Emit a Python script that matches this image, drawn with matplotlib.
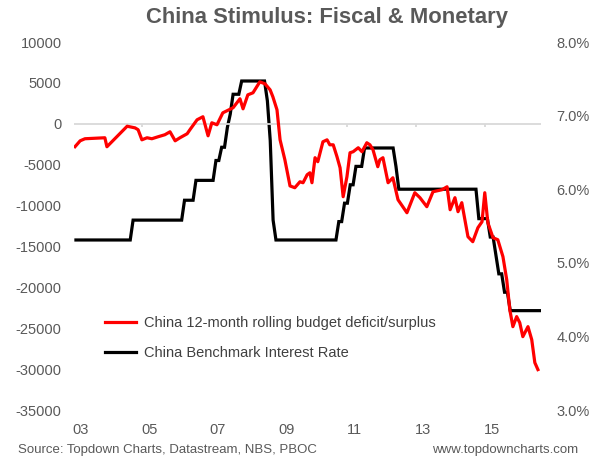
import numpy as np
import pandas as pd
import matplotlib
matplotlib.use("Agg")
import matplotlib.pyplot as plt
from matplotlib.lines import Line2D

plt.rcParams["font.family"] = ["Liberation Sans", "DejaVu Sans"]
plt.rcParams["axes.unicode_minus"] = False

# China 12-month rolling budget balance (fractional year, value)
budget_t = [2003.14, 2003.29, 2003.43, 2004.01, 2004.07, 2004.66, 2004.89, 2004.98,
            2005.09, 2005.24, 2005.38, 2005.56, 2005.76, 2005.91, 2006.06, 2006.20,
            2006.41, 2006.49, 2006.70, 2006.87, 2007.02, 2007.13, 2007.28, 2007.45,
            2007.75, 2007.95, 2008.04, 2008.18, 2008.33, 2008.53, 2008.68, 2008.83,
            2008.91, 2009.03, 2009.12, 2009.26, 2009.41, 2009.55, 2009.70, 2009.79,
            2009.91, 2009.99, 2010.05, 2010.14, 2010.22, 2010.37, 2010.49, 2010.57,
            2010.67, 2010.78, 2010.87, 2010.96, 2011.07, 2011.16, 2011.25, 2011.40,
            2011.51, 2011.65, 2011.74, 2011.83, 2011.97, 2012.03, 2012.12, 2012.27,
            2012.41, 2012.56, 2012.82, 2013.05, 2013.20, 2013.40, 2013.58, 2013.84,
            2013.99, 2014.08, 2014.22, 2014.31, 2014.42, 2014.60, 2014.74, 2014.89,
            2015.01, 2015.09, 2015.18, 2015.33, 2015.47, 2015.62, 2015.73, 2015.82,
            2015.91, 2016.02, 2016.11, 2016.20, 2016.35, 2016.46, 2016.55, 2016.64]
budget_v = [-2800, -2080, -1830, -1710, -2810, -300, -500, -730,
            -1960, -1710, -1830, -1590, -1340, -980, -2080, -1710,
            -1220, -730, 490, 860, -1470, 120, -120, 1340,
            1960, 3060, 1830, 3540, 3790, 5130, 4890, 4150,
            3300, 1710, -1960, -4400, -7600, -7820, -7090, -7210,
            -6230, -5990, -7210, -4150, -4640, -2200, -1960, -2570,
            -2570, -4030, -5380, -8920, -6480, -3540, -3420, -2930,
            -3420, -2320, -2570, -3180, -5250, -4400, -4150, -7210,
            -6600, -9290, -10880, -8430, -9040, -10140, -8310, -8070,
            -7700, -10510, -9040, -10750, -9650, -13810, -14420, -12710,
            -11980, -8430, -12100, -13930, -14180, -16250, -19060, -22730,
            -24810, -23580, -24320, -26030, -24810, -26400, -29210, -30060]

# China benchmark 1-year lending rate changes
rate_dates = ["2002-02-21", "2004-10-29", "2006-04-28", "2006-08-19", "2007-03-18",
              "2007-05-19", "2007-07-21", "2007-08-22", "2007-09-15", "2007-12-21",
              "2008-09-16", "2008-10-09", "2008-10-30", "2008-11-27", "2008-12-23",
              "2010-10-20", "2010-12-26", "2011-02-09", "2011-04-06", "2011-07-07",
              "2012-06-08", "2012-07-06", "2014-11-22", "2015-03-01", "2015-05-11",
              "2015-06-28", "2015-08-26", "2015-10-24"]
rate_values = [5.31, 5.58, 5.85, 6.12, 6.39, 6.57, 6.84, 7.02, 7.29, 7.47,
               7.20, 6.93, 6.66, 5.58, 5.31, 5.56, 5.81, 6.06, 6.31, 6.56,
               6.31, 6.00, 5.60, 5.35, 5.10, 4.85, 4.60, 4.35]

year_labels = ["03", "05", "07", "09", "11", "13", "15"]

# rate in force at each month end
rates = pd.Series(rate_values, index=pd.to_datetime(rate_dates))
months = pd.date_range("2003-02-28", "2016-09-30", freq="ME")
rate_monthly = rates.asof(months).values
rate_t = months.year + months.month / 12

grey = "#595959"
fig = plt.figure(figsize=(6.05, 4.63), dpi=100)
ax = fig.add_axes([74 / 605, 1 - 410 / 463, 467 / 605, 368 / 463])
ax2 = ax.twinx()

ax2.plot(rate_t, rate_monthly, color="black", lw=2.3, solid_joinstyle="miter")
ax.plot(budget_t, budget_v, color="#FF0000", lw=2.3, solid_joinstyle="round")

ax.set_zorder(ax2.get_zorder() + 1)
ax.patch.set_visible(False)

ax.set_xlim(2003.11, 2016.73)
ax.set_ylim(-35000, 10000)
ax2.set_ylim(3, 8)
ax.set_yticks(range(-35000, 10001, 5000))
ax2.set_yticks(np.arange(3, 8.01, 1))
ax2.set_yticklabels([f"{v:.1f}%" for v in np.arange(3, 8.01, 1)])

yrs = [2000 + int(s) for s in year_labels]
ax.set_xticks([y + 0.3 for y in yrs])
ax.set_xticklabels(year_labels)

ax.axhline(0, color="#D9D9D9", lw=1.3, zorder=0)
ax.vlines([y + 1 / 12 for y in yrs], -450, 0, color="#D9D9D9", lw=1.3, zorder=0)

for a in (ax, ax2):
    for s in a.spines.values():
        s.set_visible(False)
ax.tick_params(axis="x", length=0, pad=9, labelsize=10.5, labelcolor=grey)
ax.tick_params(axis="y", length=0, pad=9, labelsize=10.5, labelcolor=grey)
ax2.tick_params(axis="y", length=0, pad=11, labelsize=10.5, labelcolor=grey)

handles = [Line2D([], [], color="#FF0000", lw=2.3), Line2D([], [], color="black", lw=2.3)]
ax.legend(handles, ["China 12-month rolling budget deficit/surplus", "China Benchmark Interest Rate"],
          loc="upper left", bbox_to_anchor=(105 / 605, 1 - 316 / 463), bbox_transform=fig.transFigure,
          frameon=False, fontsize=10.5, labelcolor="#404040", handlelength=2.1,
          handletextpad=0.6, labelspacing=1.1, borderpad=0, borderaxespad=0)

fig.text(327 / 605, 1 - 17 / 463, "China Stimulus: Fiscal & Monetary", ha="center", va="center",
         fontsize=15.8, fontweight="bold", color=grey)
fig.text(18 / 605, 1 - 450 / 463, "Source: Topdown Charts, Datastream, NBS, PBOC", ha="left",
         va="center", fontsize=9.5, color=grey)
fig.text(578 / 605, 1 - 450 / 463, "www.topdowncharts.com", ha="right", va="center",
         fontsize=9.5, color=grey)

fig.savefig("out.png", dpi=100)
